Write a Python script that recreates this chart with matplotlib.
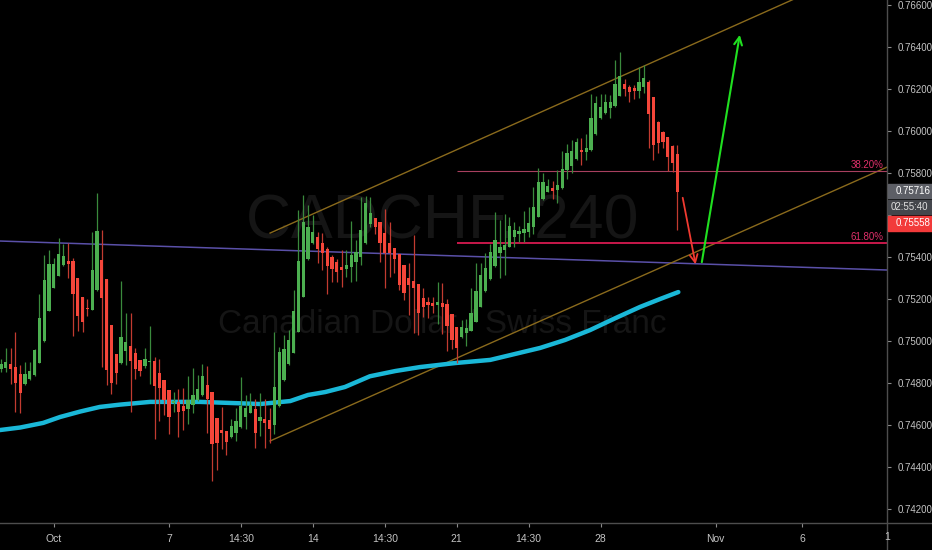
import numpy as np
import matplotlib
matplotlib.use('Agg')
import matplotlib.pyplot as plt
from matplotlib import font_manager
from matplotlib.lines import Line2D
from matplotlib.patches import Rectangle

# CADCHF 4h candles
opens = [0.74867, 0.74873, 0.74891, 0.74877, 0.74842, 0.74794, 0.74818, 0.74838, 0.74896, 0.75000,
         0.75145, 0.75254, 0.75311, 0.75361, 0.75383, 0.75380, 0.75300, 0.75208, 0.75156, 0.75148,
         0.75242, 0.75384, 0.75295, 0.75076, 0.74938, 0.74894, 0.74950, 0.74977, 0.74943, 0.74908,
         0.74882, 0.74900, 0.74903, 0.74846, 0.74815, 0.74767, 0.74703, 0.74711, 0.74691, 0.74677,
         0.74696, 0.74719, 0.74743, 0.74791, 0.74758, 0.74632, 0.74577, 0.74572, 0.74541, 0.74564,
         0.74589, 0.74640, 0.74659, 0.74675, 0.74619, 0.74630, 0.74624, 0.74600, 0.74691, 0.74814,
         0.74891, 0.74945, 0.75045, 0.75211, 0.75390, 0.75465, 0.75495, 0.75468, 0.75440, 0.75402,
         0.75376, 0.75352, 0.75341, 0.75351, 0.75378, 0.75398, 0.75465, 0.75557, 0.75586, 0.75565,
         0.75516, 0.75465, 0.75441, 0.75413, 0.75362, 0.75298, 0.75286, 0.75270, 0.75206, 0.75184,
         0.75179, 0.75170, 0.75179, 0.75176, 0.75127, 0.75068, 0.75017, 0.75040, 0.75049, 0.75092,
         0.75163, 0.75238, 0.75294, 0.75357, 0.75417, 0.75433, 0.75449, 0.75497, 0.75509, 0.75516,
         0.75521, 0.75544, 0.75592, 0.75675, 0.75711, 0.75727, 0.75719, 0.75727, 0.75814, 0.75833,
         0.75867, 0.75910, 0.75902, 0.75910, 0.75984, 0.76060, 0.76084, 0.76111, 0.76119, 0.76168,
         0.76222, 0.76211, 0.76203, 0.76190, 0.76211, 0.76235, 0.76160, 0.76044, 0.75997, 0.75971,
         0.75929, 0.75889]
highs = [0.74915, 0.74965, 0.74965, 0.75045, 0.74886, 0.74899, 0.74899, 0.74962, 0.75222, 0.75410,
         0.75434, 0.75397, 0.75489, 0.75462, 0.75465, 0.75394, 0.75300, 0.75208, 0.75199, 0.75521,
         0.75705, 0.75529, 0.75295, 0.75076, 0.74938, 0.75286, 0.75135, 0.75135, 0.74965, 0.74908,
         0.74965, 0.75073, 0.74926, 0.74913, 0.74815, 0.74767, 0.74756, 0.74772, 0.74776, 0.74834,
         0.74872, 0.74839, 0.74891, 0.74882, 0.74758, 0.74632, 0.74688, 0.74572, 0.74627, 0.74680,
         0.74827, 0.74743, 0.74751, 0.74722, 0.74754, 0.74722, 0.74680, 0.75045, 0.74973, 0.75029,
         0.75052, 0.75243, 0.75624, 0.75695, 0.75648, 0.75600, 0.75521, 0.75516, 0.75446, 0.75410,
         0.75392, 0.75433, 0.75433, 0.75571, 0.75481, 0.75687, 0.75690, 0.75684, 0.75586, 0.75565,
         0.75627, 0.75565, 0.75441, 0.75413, 0.75362, 0.75370, 0.75505, 0.75270, 0.75251, 0.75211,
         0.75208, 0.75281, 0.75275, 0.75198, 0.75127, 0.75068, 0.75100, 0.75105, 0.75251, 0.75370,
         0.75373, 0.75417, 0.75462, 0.75616, 0.75576, 0.75605, 0.75589, 0.75568, 0.75548, 0.75621,
         0.75640, 0.75732, 0.75822, 0.75798, 0.75770, 0.75762, 0.75814, 0.75905, 0.75938, 0.75957,
         0.75965, 0.75965, 0.75984, 0.76175, 0.76168, 0.76175, 0.76175, 0.76171, 0.76338, 0.76374,
         0.76247, 0.76219, 0.76219, 0.76306, 0.76314, 0.76243, 0.76163, 0.76048, 0.76000, 0.75971,
         0.75933, 0.75933]
lows = [0.74851, 0.74851, 0.74794, 0.74664, 0.74656, 0.74791, 0.74815, 0.74835, 0.74893, 0.74997,
        0.75143, 0.75251, 0.75308, 0.75356, 0.75299, 0.75026, 0.75049, 0.75045, 0.75121, 0.75146,
        0.75238, 0.74878, 0.74791, 0.74746, 0.74795, 0.74891, 0.74888, 0.74664, 0.74821, 0.74835,
        0.74870, 0.74795, 0.74532, 0.74619, 0.74646, 0.74559, 0.74664, 0.74542, 0.74576, 0.74607,
        0.74656, 0.74716, 0.74740, 0.74561, 0.74335, 0.74386, 0.74485, 0.74458, 0.74537, 0.74526,
        0.74586, 0.74580, 0.74656, 0.74489, 0.74548, 0.74489, 0.74516, 0.74556, 0.74688, 0.74811,
        0.74887, 0.74941, 0.75041, 0.75208, 0.75386, 0.75462, 0.75370, 0.75338, 0.75224, 0.75283,
        0.75283, 0.75259, 0.75303, 0.75283, 0.75287, 0.75362, 0.75462, 0.75541, 0.75508, 0.75378,
        0.75254, 0.75303, 0.75325, 0.75243, 0.75195, 0.75124, 0.75040, 0.75029, 0.75113, 0.75108,
        0.75135, 0.75081, 0.75033, 0.74954, 0.74960, 0.74894, 0.75013, 0.74978, 0.75046, 0.75089,
        0.75160, 0.75235, 0.75291, 0.75354, 0.75298, 0.75314, 0.75446, 0.75449, 0.75473, 0.75473,
        0.75497, 0.75509, 0.75589, 0.75671, 0.75708, 0.75675, 0.75655, 0.75722, 0.75771, 0.75798,
        0.75862, 0.75838, 0.75862, 0.75906, 0.75981, 0.76057, 0.76081, 0.76063, 0.76116, 0.76167,
        0.76168, 0.76140, 0.76152, 0.76159, 0.76179, 0.75918, 0.75862, 0.75894, 0.75918, 0.75809,
        0.75803, 0.75529]
closes = [0.74889, 0.74899, 0.74865, 0.74800, 0.74751, 0.74842, 0.74859, 0.74956, 0.75108, 0.75291,
          0.75367, 0.75367, 0.75414, 0.75405, 0.75367, 0.75224, 0.75119, 0.75092, 0.75150, 0.75337,
          0.75524, 0.75207, 0.74861, 0.74800, 0.74849, 0.75018, 0.74996, 0.74907, 0.74869, 0.74859,
          0.74916, 0.74905, 0.74786, 0.74778, 0.74719, 0.74637, 0.74716, 0.74664, 0.74667, 0.74719,
          0.74743, 0.74772, 0.74834, 0.74724, 0.74508, 0.74516, 0.74561, 0.74520, 0.74595, 0.74619,
          0.74691, 0.74680, 0.74695, 0.74564, 0.74640, 0.74611, 0.74580, 0.74783, 0.74946, 0.74962,
          0.75005, 0.75143, 0.75381, 0.75568, 0.75544, 0.75519, 0.75438, 0.75417, 0.75357, 0.75343,
          0.75330, 0.75338, 0.75362, 0.75410, 0.75422, 0.75529, 0.75656, 0.75611, 0.75541, 0.75465,
          0.75417, 0.75417, 0.75390, 0.75267, 0.75230, 0.75267, 0.75254, 0.75132, 0.75160, 0.75170,
          0.75168, 0.75184, 0.75164, 0.75073, 0.75005, 0.74965, 0.75065, 0.75064, 0.75135, 0.75240,
          0.75314, 0.75349, 0.75425, 0.75481, 0.75449, 0.75457, 0.75549, 0.75529, 0.75525, 0.75533,
          0.75563, 0.75640, 0.75755, 0.75755, 0.75738, 0.75716, 0.75741, 0.75817, 0.75897, 0.75906,
          0.75949, 0.75902, 0.75921, 0.76063, 0.76132, 0.76116, 0.76137, 0.76137, 0.76222, 0.76263,
          0.76200, 0.76184, 0.76192, 0.76235, 0.76254, 0.76081, 0.75933, 0.75941, 0.75946, 0.75878,
          0.75846, 0.75711]

# moving average (cyan) sampled along the curve
ma_idx = [-0.2, 4.0, 8.8, 12.3, 16.5, 20.6, 24.8, 31.1, 41.5, 47.7, 54.0, 60.3, 64.0, 67.6, 71.7,
          76.9, 82.2, 87.4, 94.7, 102.0, 112.4, 117.6, 122.8, 128.0, 133.2, 137.4, 141.2]
ma_val = [0.74576, 0.74588, 0.74610, 0.74638, 0.74664, 0.74686, 0.74697, 0.74710, 0.74710, 0.74705,
          0.74700, 0.74714, 0.74743, 0.74757, 0.74781, 0.74832, 0.74857, 0.74876, 0.74895, 0.74910,
          0.74967, 0.75005, 0.75052, 0.75108, 0.75162, 0.75200, 0.75233]

date_ticks = [11, 35, 50, 65, 80, 95, 110, 125, 149, 167]
date_labels = ['Oct', '7', '14:30', '14', '14:30', '21', '14:30', '28', 'Nov', '6']
price_ticks = [0.742, 0.744, 0.746, 0.748, 0.750, 0.752, 0.754, 0.756, 0.758, 0.760, 0.762, 0.764, 0.766]
hidden_tick = 0.756  # covered by the price boxes on the scale

fib_start = 95
fib_levels = [0.75810, 0.75467]
fib_names = ['38.20%', '61.80%']

purple_x, purple_y = [-0.2, 184.7], [0.75476, 0.75338]
chan_up_x, chan_up_y = [56.1, 184.7], [0.75514, 0.76826]
chan_dn_x, chan_dn_y = [56.1, 184.7], [0.74524, 0.75828]

red_arrow = [(142.0, 0.75695), (144.9, 0.75352)]
green_arrow = [(146.0, 0.75362), (154.1, 0.76471)]

last_price = 0.75716
countdown = '02:55:40'
bid_price = 0.75558

names = {f.name for f in font_manager.fontManager.ttflist}
if 'Liberation Sans Narrow' in names:
    fam = ['Liberation Sans Narrow', 'DejaVu Sans']
    fs = 8
else:
    fam = ['Liberation Sans', 'DejaVu Sans']
    fs = 7
plt.rcParams['font.family'] = fam

W, H = 932, 550
fig = plt.figure(figsize=(9.32, 5.5), dpi=100, facecolor='black')
ax = fig.add_axes([0, 27 / H, 887 / W, 523 / H])
ax.set_facecolor('black')

idx = np.arange(len(opens))
o = np.array(opens); c = np.array(closes)
up = c >= o
body_col = np.where(up, '#4caf50', '#f5463a')
wick_col = np.where(up, '#3a8a3d', '#c23b30')
body_b = np.minimum(o, c)
body_h = np.maximum(np.abs(c - o), 0.00005)

# watermark
ax.text(92, 0.75490, 'CADCHF, 240', color='#151515', fontsize=45, ha='center', va='baseline', zorder=0)
ax.text(92, 0.75038, 'Canadian Dollar / Swiss Franc', color='#151515', fontsize=24, ha='center',
        va='baseline', zorder=0)

ax.plot(purple_x, purple_y, color='#5a50a8', lw=1.1, zorder=1)
ax.plot(chan_up_x, chan_up_y, color='#8a6a1c', lw=1.0, zorder=1)
ax.plot(chan_dn_x, chan_dn_y, color='#8a6a1c', lw=1.0, zorder=1)

ax.plot(ma_idx, ma_val, color='#1ab8d8', lw=3.2, solid_capstyle='round', solid_joinstyle='round', zorder=2)

ax.vlines(idx, lows, highs, colors=wick_col, linewidth=0.9, zorder=3)
ax.bar(idx, body_h, bottom=body_b, width=0.68, color=body_col, linewidth=0, zorder=4)

ax.hlines(fib_levels[0], fib_start, 184.7, color='#a8405f', lw=0.8, zorder=2)
ax.hlines(fib_levels[1], fib_start, 184.7, color='#d81a50', lw=1.3, zorder=2)
for lev, nm in zip(fib_levels, fib_names):
    ax.text(183.9, lev + 0.00006, nm, color='#e0306a', fontsize=fs, ha='right', va='bottom', zorder=5)

ax.annotate('', xy=red_arrow[1], xytext=red_arrow[0],
            arrowprops=dict(arrowstyle='->', color='#f03a30', lw=1.3, mutation_scale=14), zorder=6)
ax.annotate('', xy=green_arrow[1], xytext=green_arrow[0],
            arrowprops=dict(arrowstyle='->', color='#20e020', lw=1.5, mutation_scale=14), zorder=6)

ax.set_xlim(-0.21, 184.7)
ax.set_ylim(0.741333, 0.766238)

ax.yaxis.tick_right()
ax.set_yticks(price_ticks)
ax.set_yticklabels(['' if abs(p - hidden_tick) < 1e-9 else '%.5f' % p for p in price_ticks])
ax.set_xticks(date_ticks)
ax.set_xticklabels(date_labels)
ax.tick_params(axis='y', length=3, width=0.8, pad=5, color='#8a8a8a', labelcolor='#c4c4c4', labelsize=fs)
ax.tick_params(axis='x', length=3, width=0.8, pad=5, color='#8a8a8a', labelcolor='#c4c4c4', labelsize=fs + 0.5)
for s in ax.spines.values():
    s.set_visible(False)

# axis borders running to the figure edges
fig.add_artist(Line2D([887 / W, 887 / W], [0, 1], color='#4d4d4d', lw=1, transform=fig.transFigure))
fig.add_artist(Line2D([0, 1], [27 / H, 27 / H], color='#4d4d4d', lw=1, transform=fig.transFigure))

# price boxes on the scale
def px_box(y0, y1, col):
    fig.add_artist(Rectangle((888 / W, 1 - y1 / H), 44 / W, (y1 - y0) / H, color=col,
                             transform=fig.transFigure, zorder=5))

px_box(184, 198, '#5d5f66')
px_box(200, 214, '#44464c')
px_box(216, 231, '#f23a3a')
fig.text(896 / W, 1 - 191 / H, '%.5f' % last_price, color='white', fontsize=fs, va='center', zorder=6)
fig.text(891 / W, 1 - 207 / H, countdown, color='#e0e0e0', fontsize=fs, va='center', zorder=6)
fig.text(896 / W, 1 - 223.5 / H, '%.5f' % bid_price, color='white', fontsize=fs, va='center', zorder=6)
fig.text(887 / W, 1 - 537 / H, '1', color='#c4c4c4', fontsize=fs + 0.5, ha='center', va='center')

fig.savefig('out.png', dpi=100, facecolor='black')
